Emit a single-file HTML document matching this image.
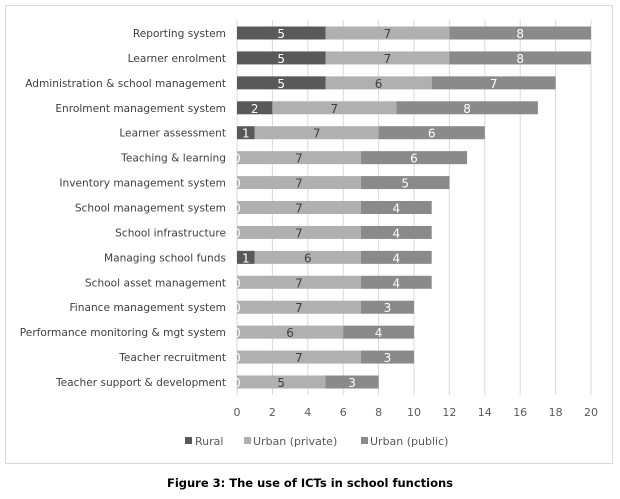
<!DOCTYPE html>
<html><head><meta charset="utf-8"><style>
body{margin:0;background:#fff;font-family:"DejaVu Sans","Liberation Sans",sans-serif;}
</style></head><body>
<svg width="620" height="495" xmlns="http://www.w3.org/2000/svg">
<rect x="5.5" y="5.5" width="607" height="458" fill="#fff" stroke="#d9d9d9"/>
<g id="grid"></g><g id="bars"></g><g id="labels"></g>
<g font-size="11" fill="#595959">
<rect x="185" y="437" width="7" height="7" fill="#595959"/>
<text x="195" y="445">Rural</text>
<rect x="244" y="437" width="7" height="7" fill="#b0b0b0"/>
<text x="253" y="445">Urban (private)</text>
<rect x="361" y="437" width="7" height="7" fill="#8a8a8a"/>
<text x="370" y="445">Urban (public)</text>
</g>
<text x="310" y="487" text-anchor="middle" font-size="11.5" font-weight="bold" fill="#000">Figure 3: The use of ICTs in school functions</text>
</svg>
<script>
const categories=["Reporting system","Learner enrolment","Administration & school management","Enrolment management system","Learner assessment","Teaching & learning","Inventory management system","School management system","School infrastructure","Managing school funds","School asset management","Finance management system","Performance monitoring & mgt system","Teacher recruitment","Teacher support & development"];
const rural=[5,5,5,2,1,0,0,0,0,1,0,0,0,0,0];
const urbanPrivate=[7,7,6,7,7,7,7,7,7,6,7,7,6,7,5];
const urbanPublic=[8,8,7,8,6,6,5,4,4,4,4,3,4,3,3];
const ticks=[0,2,4,6,8,10,12,14,16,18,20];
const NS="http://www.w3.org/2000/svg";
const x=v=>237+v*(354/20);
const y=i=>33+i*(349/14);
const grid=document.getElementById('grid'),bars=document.getElementById('bars'),labels=document.getElementById('labels');
function mk(tag,attrs,parent,txt){const e=document.createElementNS(NS,tag);for(const k in attrs)e.setAttribute(k,attrs[k]);if(txt!==undefined)e.textContent=txt;parent.appendChild(e);return e;}
ticks.forEach(t=>{
 const l=mk('line',{x1:x(t),x2:x(t),y1:20,y2:395,stroke:'#d9d9d9'},grid);
 
 
 const tx=mk('text',{x:x(t),y:416,'text-anchor':'middle','font-size':'11',fill:'#595959'},labels,t);
 
 
});
const series=[[rural,'#595959','#fff','rural'],[urbanPrivate,'#b0b0b0','#404040','urban-private'],[urbanPublic,'#8a8a8a','#fff','urban-public']];
categories.forEach((c,i)=>{
 const cy=y(i);
 const cl=mk('text',{x:226,y:cy+4,'text-anchor':'end','font-size':'10.6',fill:'#404040'},labels,c);
 
 
 let acc=0;
 series.forEach(([arr,col,tc,nm])=>{
  const v=arr[i];
  const r=mk('rect',{x:x(acc),y:cy-6.5,width:x(acc+v)-x(acc),height:13,fill:col},bars);
  
  
  const t=mk('text',{x:(x(acc)+x(acc+v))/2,y:cy+5,'text-anchor':'middle','font-size':'12',fill:tc},labels,v);
  
  
  acc+=v;
 });
});
</script>
</body></html>
